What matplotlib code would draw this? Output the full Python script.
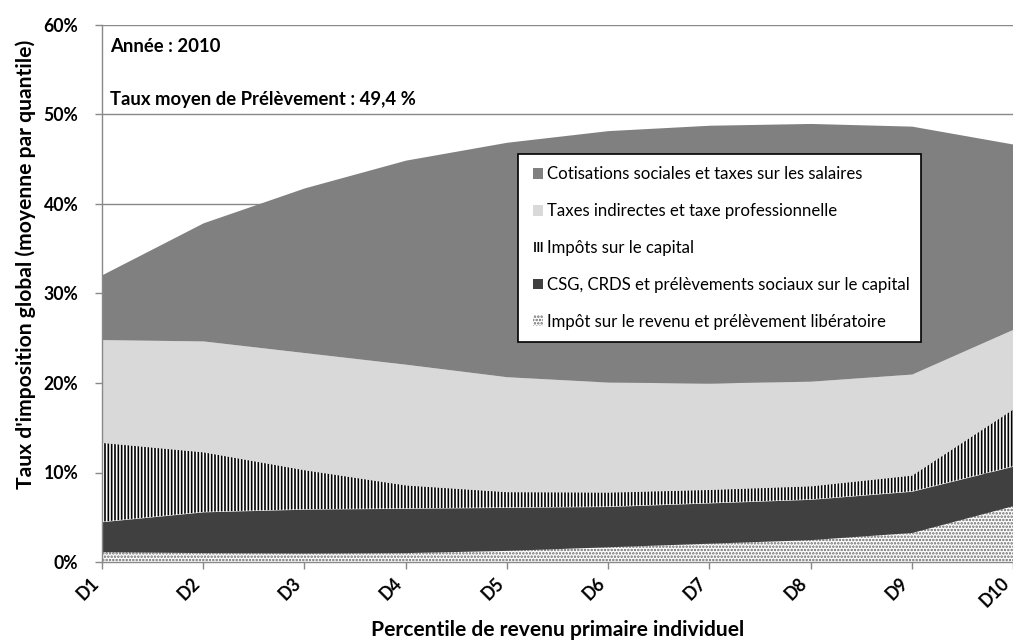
import matplotlib
matplotlib.use('Agg')
import matplotlib.pyplot as plt
from matplotlib.patches import Patch, Rectangle
from matplotlib.ticker import FuncFormatter
import numpy as np

# ---------------- data (percent of income, per decile) ----------------
deciles = ['D1', 'D2', 'D3', 'D4', 'D5', 'D6', 'D7', 'D8', 'D9', 'D10']
impot_revenu = [1.15, 1.05, 1.0, 1.05, 1.3, 1.7, 2.1, 2.5, 3.3, 6.3]
csg_crds = [3.35, 4.55, 4.9, 4.95, 4.8, 4.5, 4.5, 4.5, 4.6, 4.4]
impots_capital = [8.85, 6.7, 4.4, 2.6, 1.75, 1.6, 1.5, 1.5, 1.8, 6.4]
taxes_indirectes = [11.5, 12.4, 13.1, 13.5, 12.85, 12.3, 11.9, 11.7, 11.3, 8.9]
cotisations = [7.25, 13.2, 18.4, 22.8, 26.2, 28.1, 28.8, 28.8, 27.7, 20.7]

series_labels = [
    "Impôt sur le revenu et prélèvement libératoire",
    "CSG, CRDS et prélèvements sociaux sur le capital",
    "Impôts sur le capital",
    "Taxes indirectes et taxe professionnelle",
    "Cotisations sociales et taxes sur les salaires",
]
y_ticks = [0, 10, 20, 30, 40, 50, 60]
annot_year = "Année : 2010"
annot_rate = "Taux moyen de Prélèvement : 49,4 %"
x_title = "Percentile de revenu primaire individuel"
y_title = "Taux d'imposition global (moyenne par quantile)"

# ---------------- style ----------------
FONT = ['Lato', 'DejaVu Sans']
plt.rcParams['font.family'] = FONT
plt.rcParams['hatch.linewidth'] = 1.2
AXIS_GRAY = '#898989'

W, H = 1013, 641
fig = plt.figure(figsize=(W / 100, H / 100), dpi=100)
renderer = fig.canvas.get_renderer()


def fit_size(s, target_px, weight='normal', base=10.0):
    t = fig.text(0, 0, s, fontsize=base, fontweight=weight)
    w = t.get_window_extent(renderer).width
    t.remove()
    return base * target_px / w


def fx(px):
    return px / W


def fy(py):
    return 1 - py / H


ax_left, ax_right, ax_top, ax_bottom = 102, 1013, 25, 562
ax = fig.add_axes([fx(ax_left), fy(ax_bottom), (ax_right - ax_left) / W,
                   (ax_bottom - ax_top) / H])

x = np.arange(len(deciles))
facecolors = ['white', '#404040', 'white', '#d9d9d9', '#808080']
hatches = ['.....', None, '|||||', None, None]
hatchcolors = ['#6a6a6a', '#404040', 'black', '#d9d9d9', '#808080']

polys = ax.stackplot(x, impot_revenu, csg_crds, impots_capital,
                     taxes_indirectes, cotisations, colors=facecolors,
                     linewidth=0, zorder=2)
for p, h, hc in zip(polys, hatches, hatchcolors):
    p.set_edgecolor(hc)
    p.set_linewidth(0)
    if h:
        p.set_hatch(h)

ax.set_xlim(0, len(deciles) - 1)
ax.set_ylim(0, 60)
ax.set_yticks(y_ticks)
ax.yaxis.set_major_formatter(FuncFormatter(lambda v, _: f"{v:.0f}%"))
ax.set_xticks(x)

tick_fs = fit_size('60%', 35, 'bold')
ax.set_xticklabels(deciles, rotation=45, ha='right', va='top',
                   fontsize=tick_fs, fontweight='bold')
for lab in ax.get_yticklabels():
    lab.set_fontsize(tick_fs)
    lab.set_fontweight('bold')

ax.grid(axis='y', color=AXIS_GRAY, linewidth=1, zorder=0)
ax.set_axisbelow(True)
for s in ['top', 'right']:
    ax.spines[s].set_visible(False)
for s in ['left', 'bottom']:
    ax.spines[s].set_color(AXIS_GRAY)
    ax.spines[s].set_linewidth(1)
ax.tick_params(axis='both', colors=AXIS_GRAY, length=5, width=1,
               labelcolor='black')
ax.tick_params(axis='y', pad=12)
ax.tick_params(axis='x', pad=4)

# axis titles
xt_fs = fit_size(x_title, 374, 'bold')
fig.text(fx(558), fy(630), x_title, fontsize=xt_fs, fontweight='bold',
         ha='center', va='center')
yt_fs = fit_size(y_title, 452, 'bold')
fig.text(fx(26), fy(264), y_title, fontsize=yt_fs, fontweight='bold',
         ha='center', va='center', rotation=90)

# annotations
an_fs = fit_size("Taux moyen de Prélèvement : 49,4", 287, 'bold')
fig.text(fx(110), fy(47), annot_year, fontsize=an_fs, fontweight='bold',
         ha='left', va='center')
fig.text(fx(110), fy(99), annot_rate, fontsize=an_fs, fontweight='bold',
         ha='left', va='center')

# legend
leg_fs = fit_size(series_labels[4], 316)
handles = []
for fc, h, hc in zip(facecolors, hatches, hatchcolors):
    handles.append(Patch(facecolor=fc, edgecolor=hc, hatch=h, linewidth=0))
order = [4, 3, 2, 1, 0]
fig.patches.append(Rectangle((fx(518), fy(342)), (921 - 518) / W,
                             (342 - 154) / H, transform=fig.transFigure,
                             facecolor='white', edgecolor='black',
                             linewidth=1.2, zorder=5))
leg_px = leg_fs * 100 / 72
leg = fig.legend([handles[i] for i in order], [series_labels[i] for i in order],
                 loc='center left', bbox_to_anchor=(fx(533), fy(248)),
                 frameon=False, fontsize=leg_fs, borderpad=0,
                 borderaxespad=0, handlelength=10 / leg_px,
                 handleheight=10 / leg_px, handletextpad=4 / leg_px,
                 labelspacing=(37.6 - leg_px * 1.0) / leg_px)
leg.set_zorder(6)

fig.savefig('out.png', dpi=100)
